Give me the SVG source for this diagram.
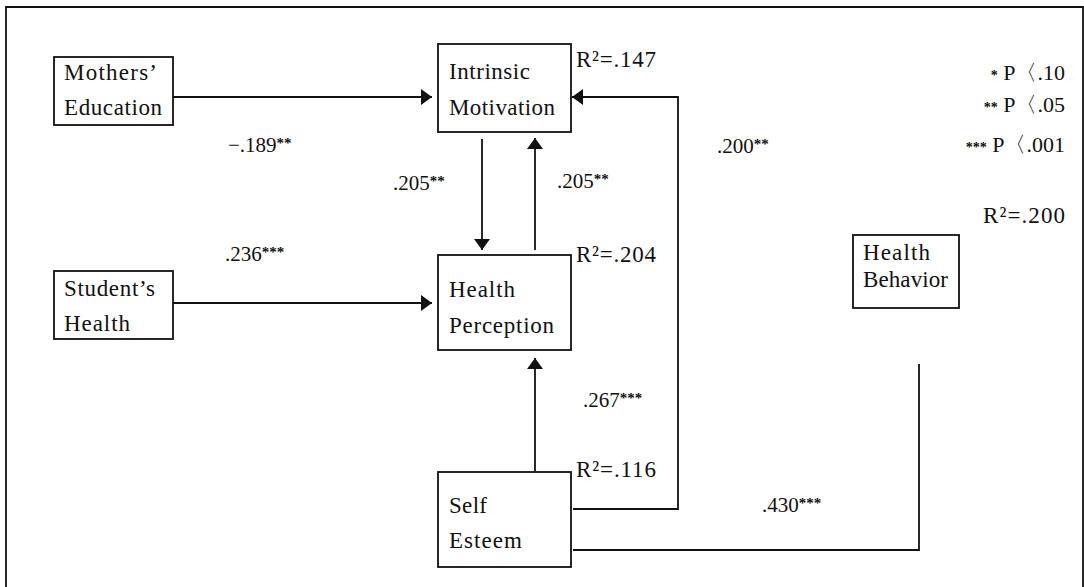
<svg xmlns="http://www.w3.org/2000/svg" width="1084" height="587" viewBox="0 0 1084 587">
<style>
text{font-family:"Liberation Serif","Times New Roman",serif;font-size:21px;fill:#111}
.nl{font-size:23px}
.box{fill:#fff;stroke:#111;stroke-width:1.8}
.ln{fill:none;stroke:#111;stroke-width:1.8}
.st{font-size:15px;font-weight:bold}
.ls{font-size:14px;font-weight:bold}
.br{font-family:"Noto Sans CJK KR","Noto Sans CJK SC",sans-serif;font-size:16px}
.lg{text-anchor:end;font-size:22px}
</style>
<defs>
<marker id="ah" markerUnits="userSpaceOnUse" markerWidth="12" markerHeight="16" refX="11" refY="8" orient="auto">
<path d="M0,0 L11,8 L0,16 z" fill="#111"/>
</marker>
</defs>
<rect width="1084" height="587" fill="#fff"/>
<path class="ln" d="M6,587 V7 H1083 V587" stroke-width="2"/>

<g id="connectors">
<line class="ln" x1="173" y1="97" x2="432" y2="97" marker-end="url(#ah)"/>
<line class="ln" x1="173" y1="303" x2="432" y2="303" marker-end="url(#ah)"/>
<line class="ln" x1="482" y1="139" x2="482" y2="250" marker-end="url(#ah)"/>
<line class="ln" x1="535" y1="250" x2="535" y2="138" marker-end="url(#ah)"/>
<line class="ln" x1="535" y1="471" x2="535" y2="358" marker-end="url(#ah)"/>
<path class="ln" d="M573,509 H678 V97 H572" marker-end="url(#ah)"/>
<path class="ln" d="M573,550 H919 V364"/>
</g>

<g id="mothers-education">
<rect class="box" x="54" y="57" width="119" height="68"/>
<text class="nl" x="64" y="80" textLength="93">Mothers’</text>
<text class="nl" x="64" y="115" textLength="98">Education</text>
</g>
<g id="students-health">
<rect class="box" x="54" y="271" width="119" height="68"/>
<text class="nl" x="64" y="296" textLength="91">Student’s</text>
<text class="nl" x="64" y="331" textLength="66">Health</text>
</g>
<g id="intrinsic-motivation">
<rect class="box" x="438" y="44" width="133" height="88"/>
<text class="nl" x="449" y="79" textLength="81">Intrinsic</text>
<text class="nl" x="449" y="115" textLength="106">Motivation</text>
<text class="nl" x="576" y="67" textLength="80">R²=.147</text>
</g>
<g id="health-perception">
<rect class="box" x="438" y="255" width="133" height="95"/>
<text class="nl" x="449" y="297" textLength="66">Health</text>
<text class="nl" x="449" y="333" textLength="105">Perception</text>
<text class="nl" x="576" y="262" textLength="80">R²=.204</text>
</g>
<g id="self-esteem">
<rect class="box" x="438" y="472" width="133" height="95"/>
<text class="nl" x="449" y="513" textLength="38">Self</text>
<text class="nl" x="449" y="548" textLength="73">Esteem</text>
<text class="nl" x="576" y="477" textLength="80">R²=.116</text>
</g>
<g id="health-behavior">
<rect class="box" x="853" y="235" width="106" height="73"/>
<text class="nl" x="863" y="260" textLength="67">Health</text>
<text class="nl" x="863" y="287" textLength="85">Behavior</text>
<text class="nl" x="983" y="223" textLength="82">R²=.200</text>
</g>

<g id="labels">
<text x="228" y="152">−.189<tspan class="st" dy="-4">**</tspan></text>
<text x="225" y="261">.236<tspan class="st" dy="-4">***</tspan></text>
<text x="393" y="190">.205<tspan class="st" dy="-4">**</tspan></text>
<text x="557" y="188">.205<tspan class="st" dy="-4">**</tspan></text>
<text x="717" y="153">.200<tspan class="st" dy="-4">**</tspan></text>
<text x="583" y="407">.267<tspan class="st" dy="-4">***</tspan></text>
<text x="762" y="512">.430<tspan class="st" dy="-4">***</tspan></text>
</g>

<g id="legend">
<text class="lg" x="1065" y="80"><tspan class="ls">*</tspan> P〈.10</text>
<text class="lg" x="1065" y="112"><tspan class="ls">**</tspan> P〈.05</text>
<text class="lg" x="1065" y="152"><tspan class="ls">***</tspan> P〈.001</text>
</g>
</svg>
